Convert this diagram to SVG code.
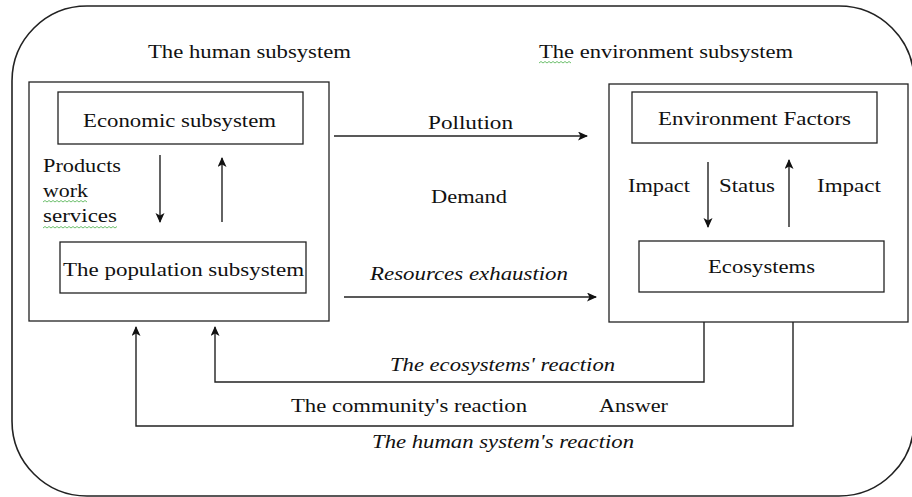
<svg xmlns="http://www.w3.org/2000/svg" width="912" height="497" viewBox="0 0 912 497" font-family="'Liberation Serif', 'Times New Roman', serif">
<defs>
<marker id="ah" markerUnits="userSpaceOnUse" markerWidth="12" markerHeight="10" refX="9" refY="4.5" orient="auto">
<path d="M0,0 L10,4.5 L0,9 L2.5,4.5 z" fill="#111"/>
</marker>
</defs>
<style>
.box{fill:#fff;stroke:#222;stroke-width:1.3}
.ln{fill:none;stroke:#222;stroke-width:1.4}
text{font-family:'Liberation Serif','Times New Roman',serif;font-size:19px;fill:#111}
.it{font-style:italic}
.sq{fill:none;stroke:#5cb85c;stroke-width:0.9}
</style>
<rect x="12" y="6" width="902" height="490" rx="75" ry="75" fill="#fff" stroke="#222" stroke-width="1.6"/>
<text x="148" y="58" textLength="203" lengthAdjust="spacingAndGlyphs">The human subsystem</text>
<text x="539" y="58" textLength="254" lengthAdjust="spacingAndGlyphs">The environment subsystem</text>
<g id="human">
<rect class="box" x="29" y="82" width="300" height="239"/>
</g>
<g id="environment">
<rect class="box" x="609" y="84" width="299" height="238"/>
</g>
<g id="economic">
<rect class="box" x="58" y="92" width="245" height="52"/>
<text x="83" y="127" textLength="193" lengthAdjust="spacingAndGlyphs">Economic subsystem</text>
</g>
<g id="population">
<rect class="box" x="60" y="242" width="246" height="51"/>
<text x="63" y="276" textLength="241" lengthAdjust="spacingAndGlyphs">The population subsystem</text>
</g>
<g id="factors">
<rect class="box" x="632" y="92" width="245" height="51"/>
<text x="658" y="125" textLength="193" lengthAdjust="spacingAndGlyphs">Environment Factors</text>
</g>
<g id="ecosystems">
<rect class="box" x="639" y="241" width="245" height="51"/>
<text x="708" y="273" textLength="107" lengthAdjust="spacingAndGlyphs">Ecosystems</text>
</g>
<g id="connectors">
<line class="ln" x1="160" y1="155" x2="160" y2="222" marker-end="url(#ah)"/>
<line class="ln" x1="222" y1="222" x2="222" y2="158" marker-end="url(#ah)"/>
<line class="ln" x1="708" y1="162" x2="708" y2="227" marker-end="url(#ah)"/>
<line class="ln" x1="789" y1="227" x2="789" y2="160" marker-end="url(#ah)"/>
<line class="ln" x1="334" y1="136" x2="587" y2="136" marker-end="url(#ah)"/>
<line class="ln" x1="344" y1="297" x2="596" y2="297" marker-end="url(#ah)"/>
<path class="ln" d="M704,322 V382 H215 V327" marker-end="url(#ah)"/>
<path class="ln" d="M793,322 V426 H136 V327" marker-end="url(#ah)"/>
</g>
<g id="labels">
<text x="43" y="172" textLength="78" lengthAdjust="spacingAndGlyphs">Products</text>
<text x="43" y="197" textLength="45" lengthAdjust="spacingAndGlyphs">work</text>
<text x="43" y="222" textLength="74" lengthAdjust="spacingAndGlyphs">services</text>
<text x="428" y="129" textLength="85" lengthAdjust="spacingAndGlyphs">Pollution</text>
<text x="431" y="203" textLength="76" lengthAdjust="spacingAndGlyphs">Demand</text>
<text class="it" x="370" y="280" textLength="198" lengthAdjust="spacingAndGlyphs">Resources exhaustion</text>
<text x="628" y="192" textLength="62" lengthAdjust="spacingAndGlyphs">Impact</text>
<text x="719" y="192" textLength="56" lengthAdjust="spacingAndGlyphs">Status</text>
<text x="817" y="192" textLength="64" lengthAdjust="spacingAndGlyphs">Impact</text>
<text class="it" x="390" y="371" textLength="225" lengthAdjust="spacingAndGlyphs">The ecosystems' reaction</text>
<text x="291" y="412" textLength="236" lengthAdjust="spacingAndGlyphs">The community's reaction</text>
<text x="599" y="412" textLength="69" lengthAdjust="spacingAndGlyphs">Answer</text>
<text class="it" x="372" y="448" textLength="262" lengthAdjust="spacingAndGlyphs">The human system's reaction</text>
</g>
<g id="squiggles">
<polyline class="sq" points="43,202 45,200.5 47,202 49,200.5 51,202 53,200.5 55,202 57,200.5 59,202 61,200.5 63,202 65,200.5 67,202 69,200.5 71,202 73,200.5 75,202 77,200.5 79,202 81,200.5 83,202 85,200.5 87,202"/>
<polyline class="sq" points="43,228 45,226.5 47,228 49,226.5 51,228 53,226.5 55,228 57,226.5 59,228 61,226.5 63,228 65,226.5 67,228 69,226.5 71,228 73,226.5 75,228 77,226.5 79,228 81,226.5 83,228 85,226.5 87,228 89,226.5 91,228 93,226.5 95,228 97,226.5 99,228 101,226.5 103,228 105,226.5 107,228 109,226.5 111,228 113,226.5 115,228 117,226.5"/>
<polyline class="sq" points="539,63 541,61.5 543,63 545,61.5 547,63 549,61.5 551,63 553,61.5 555,63 557,61.5 559,63 561,61.5 563,63 565,61.5 567,63 569,61.5 571,63"/>
</g>
</svg>
